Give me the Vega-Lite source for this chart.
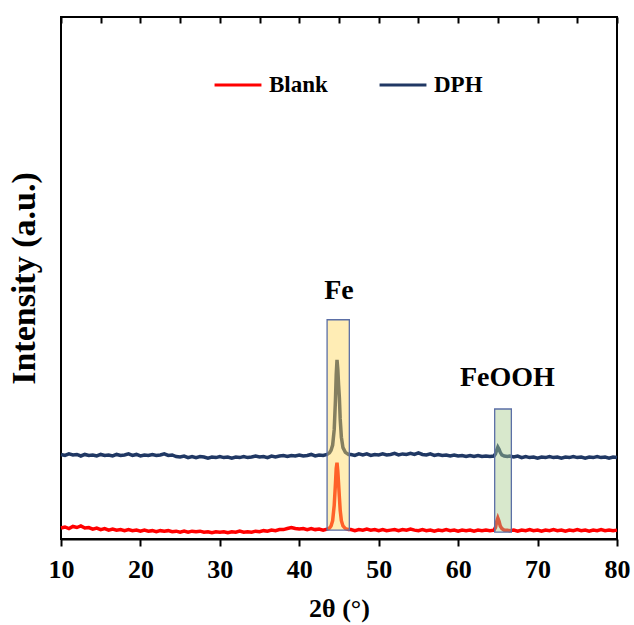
{
  "$schema": "https://vega.github.io/schema/vega-lite/v6.json",
  "width": 556,
  "height": 522,
  "autosize": "none",
  "padding": {"left": 61, "top": 17, "right": 17, "bottom": 86},
  "background": "white",
  "config": {
    "view": {"stroke": "black", "strokeWidth": 2},
    "font": "Liberation Serif",
    "axis": {"grid": false, "labelFont": "Liberation Serif", "titleFont": "Liberation Serif", "labelFlush": false}
  },
  "datasets": {
    "xrd": [
      {"x":10,"Blank":2.1,"DPH":16.2},{"x":10.5,"Blank":2.3,"DPH":16.0},{"x":11,"Blank":2.0,"DPH":16.3},{"x":11.5,"Blank":2.4,"DPH":16.1},
      {"x":12,"Blank":2.2,"DPH":16.2},{"x":12.5,"Blank":2.5,"DPH":15.9},{"x":13,"Blank":2.1,"DPH":16.2},{"x":13.5,"Blank":2.2,"DPH":16.0},
      {"x":14,"Blank":1.9,"DPH":16.1},{"x":14.5,"Blank":2.1,"DPH":15.9},{"x":15,"Blank":1.8,"DPH":16.2},{"x":15.5,"Blank":2.0,"DPH":16.0},
      {"x":16,"Blank":1.7,"DPH":16.1},{"x":16.5,"Blank":1.9,"DPH":15.9},{"x":17,"Blank":1.7,"DPH":16.2},{"x":17.5,"Blank":1.8,"DPH":16.0},
      {"x":18,"Blank":1.6,"DPH":16.1},{"x":18.5,"Blank":1.8,"DPH":16.3},{"x":19,"Blank":1.6,"DPH":16.0},{"x":19.5,"Blank":1.7,"DPH":16.2},
      {"x":20,"Blank":1.5,"DPH":15.9},{"x":20.5,"Blank":1.7,"DPH":16.1},{"x":21,"Blank":1.5,"DPH":16.0},{"x":21.5,"Blank":1.6,"DPH":16.2},
      {"x":22,"Blank":1.4,"DPH":16.0},{"x":22.5,"Blank":1.6,"DPH":16.1},{"x":23,"Blank":1.5,"DPH":16.3},{"x":23.5,"Blank":1.6,"DPH":16.0},
      {"x":24,"Blank":1.4,"DPH":16.1},{"x":24.5,"Blank":1.5,"DPH":15.8},{"x":25,"Blank":1.3,"DPH":15.7},{"x":25.5,"Blank":1.5,"DPH":15.9},
      {"x":26,"Blank":1.3,"DPH":15.6},{"x":26.5,"Blank":1.5,"DPH":15.8},{"x":27,"Blank":1.4,"DPH":15.6},{"x":27.5,"Blank":1.5,"DPH":15.8},
      {"x":28,"Blank":1.3,"DPH":15.7},{"x":28.5,"Blank":1.4,"DPH":15.5},{"x":29,"Blank":1.2,"DPH":15.7},{"x":29.5,"Blank":1.4,"DPH":15.6},
      {"x":30,"Blank":1.3,"DPH":15.8},{"x":30.5,"Blank":1.4,"DPH":15.6},{"x":31,"Blank":1.2,"DPH":15.7},{"x":31.5,"Blank":1.4,"DPH":15.5},
      {"x":32,"Blank":1.3,"DPH":15.7},{"x":32.5,"Blank":1.5,"DPH":15.6},{"x":33,"Blank":1.3,"DPH":15.8},{"x":33.5,"Blank":1.4,"DPH":15.6},
      {"x":34,"Blank":1.3,"DPH":15.7},{"x":34.5,"Blank":1.5,"DPH":15.9},{"x":35,"Blank":1.4,"DPH":15.7},{"x":35.5,"Blank":1.6,"DPH":15.8},
      {"x":36,"Blank":1.5,"DPH":15.6},{"x":36.5,"Blank":1.7,"DPH":15.9},{"x":37,"Blank":1.6,"DPH":15.7},{"x":37.5,"Blank":1.8,"DPH":15.9},
      {"x":38,"Blank":1.8,"DPH":16.0},{"x":38.5,"Blank":2.0,"DPH":15.8},{"x":39,"Blank":2.2,"DPH":16.0},{"x":39.5,"Blank":2.0,"DPH":15.9},
      {"x":40,"Blank":1.9,"DPH":16.1},{"x":40.5,"Blank":2.0,"DPH":15.9},{"x":41,"Blank":1.8,"DPH":16.0},{"x":41.5,"Blank":2.0,"DPH":16.2},
      {"x":42,"Blank":1.8,"DPH":15.9},{"x":42.5,"Blank":1.9,"DPH":16.1},{"x":43,"Blank":1.7,"DPH":16.0},
      {"x":43.5,"Blank":1.9,"DPH":16.2},{"x":43.8,"Blank":2.1,"DPH":16.5},{"x":44.0,"Blank":2.5,"DPH":17.0},{"x":44.2,"Blank":3.5,"DPH":18.0},
      {"x":44.4,"Blank":6.5,"DPH":21.0},{"x":44.55,"Blank":10.5,"DPH":26.5},{"x":44.65,"Blank":13.5,"DPH":31.5},{"x":44.75,"Blank":14.6,"DPH":34.3},
      {"x":44.85,"Blank":13.0,"DPH":32.5},{"x":44.95,"Blank":10.5,"DPH":29.5},{"x":45.05,"Blank":8.0,"DPH":27.0},{"x":45.15,"Blank":5.5,"DPH":23.0},
      {"x":45.3,"Blank":3.5,"DPH":19.5},{"x":45.5,"Blank":2.5,"DPH":17.5},{"x":45.8,"Blank":2.0,"DPH":16.6},{"x":46.2,"Blank":1.8,"DPH":16.2},
      {"x":46.5,"Blank":1.8,"DPH":16.2},{"x":47,"Blank":1.6,"DPH":16.0},{"x":47.5,"Blank":1.8,"DPH":16.3},{"x":48,"Blank":1.7,"DPH":16.1},
      {"x":48.5,"Blank":1.9,"DPH":16.3},{"x":49,"Blank":1.7,"DPH":16.0},{"x":49.5,"Blank":1.8,"DPH":16.2},{"x":50,"Blank":1.6,"DPH":16.1},
      {"x":50.5,"Blank":1.8,"DPH":16.3},{"x":51,"Blank":1.6,"DPH":16.1},{"x":51.5,"Blank":1.7,"DPH":16.2},{"x":52,"Blank":1.8,"DPH":16.4},
      {"x":52.5,"Blank":1.6,"DPH":16.1},{"x":53,"Blank":1.8,"DPH":16.3},{"x":53.5,"Blank":1.7,"DPH":16.2},{"x":54,"Blank":1.9,"DPH":16.4},
      {"x":54.5,"Blank":1.7,"DPH":16.2},{"x":55,"Blank":1.6,"DPH":16.5},{"x":55.5,"Blank":1.8,"DPH":16.2},{"x":56,"Blank":1.6,"DPH":16.1},
      {"x":56.5,"Blank":1.7,"DPH":16.3},{"x":57,"Blank":1.5,"DPH":16.0},{"x":57.5,"Blank":1.7,"DPH":16.2},{"x":58,"Blank":1.6,"DPH":16.0},
      {"x":58.5,"Blank":1.8,"DPH":16.1},{"x":59,"Blank":1.6,"DPH":15.9},{"x":59.5,"Blank":1.7,"DPH":16.1},{"x":60,"Blank":1.5,"DPH":15.9},
      {"x":60.5,"Blank":1.7,"DPH":16.0},{"x":61,"Blank":1.6,"DPH":15.8},{"x":61.5,"Blank":1.7,"DPH":16.0},{"x":62,"Blank":1.5,"DPH":15.8},
      {"x":62.5,"Blank":1.7,"DPH":16.0},{"x":63,"Blank":1.6,"DPH":15.8},{"x":63.5,"Blank":1.7,"DPH":15.9},{"x":64,"Blank":1.6,"DPH":15.8},
      {"x":64.5,"Blank":1.7,"DPH":15.9},{"x":64.7,"Blank":2.2,"DPH":16.3},{"x":64.85,"Blank":3.3,"DPH":17.0},{"x":65.0,"Blank":4.0,"DPH":17.6},
      {"x":65.15,"Blank":3.4,"DPH":17.2},{"x":65.3,"Blank":2.5,"DPH":16.6},{"x":65.5,"Blank":2.0,"DPH":16.1},{"x":65.8,"Blank":1.7,"DPH":15.9},
      {"x":66.2,"Blank":1.7,"DPH":15.8},{"x":66.5,"Blank":1.6,"DPH":15.9},{"x":67,"Blank":1.7,"DPH":15.7},{"x":67.5,"Blank":1.5,"DPH":15.9},
      {"x":68,"Blank":1.7,"DPH":15.6},{"x":68.5,"Blank":1.6,"DPH":15.8},{"x":69,"Blank":1.8,"DPH":15.6},{"x":69.5,"Blank":1.6,"DPH":15.7},
      {"x":70,"Blank":1.7,"DPH":15.5},{"x":70.5,"Blank":1.5,"DPH":15.7},{"x":71,"Blank":1.7,"DPH":15.6},{"x":71.5,"Blank":1.6,"DPH":15.8},
      {"x":72,"Blank":1.8,"DPH":15.6},{"x":72.5,"Blank":1.6,"DPH":15.7},{"x":73,"Blank":1.7,"DPH":15.5},{"x":73.5,"Blank":1.5,"DPH":15.7},
      {"x":74,"Blank":1.7,"DPH":15.6},{"x":74.5,"Blank":1.6,"DPH":15.8},{"x":75,"Blank":1.8,"DPH":15.6},{"x":75.5,"Blank":1.6,"DPH":15.7},
      {"x":76,"Blank":1.7,"DPH":15.5},{"x":76.5,"Blank":1.5,"DPH":15.7},{"x":77,"Blank":1.7,"DPH":15.6},{"x":77.5,"Blank":1.6,"DPH":15.8},
      {"x":78,"Blank":1.8,"DPH":15.6},{"x":78.5,"Blank":1.6,"DPH":15.7},{"x":79,"Blank":1.7,"DPH":15.5},{"x":79.5,"Blank":1.6,"DPH":15.7},
      {"x":80,"Blank":1.7,"DPH":15.6}
    ],
    "boxes": [
      {"phase":"Fe","x1":43.5,"x2":46.3,"y1":1.7,"y2":42.0},
      {"phase":"FeOOH","x1":64.6,"x2":66.7,"y1":1.3,"y2":24.9}
    ],
    "labels": [
      {"label":"Fe","x":45.0,"y":47.5},
      {"label":"FeOOH","x":66.2,"y":30.8}
    ]
  },
  "layer": [
    {
      "data": {"name": "xrd"},
      "transform": [{"fold": ["Blank", "DPH"], "as": ["series", "intensity"]}],
      "mark": {"type": "line", "strokeWidth": 3.5},
      "encoding": {
        "x": {"field": "x", "type": "quantitative",
          "scale": {"domain": [10, 80], "nice": false},
          "axis": {"values": [10,20,30,40,50,60,70,80], "tickSize": 7, "tickWidth": 2, "tickColor": "black", "labelFlush": false,
            "domainColor": "black", "domainWidth": 2, "labelFontSize": 26, "labelFontWeight": "bold", "labelColor": "black",
            "labelPadding": 10, "labelFont": "Liberation Serif",
            "title": "2θ (°)", "titleFontSize": 26, "titleFontWeight": "bold", "titleColor": "black", "titleFont": "Liberation Serif", "titlePadding": 13}},
        "y": {"field": "intensity", "type": "quantitative",
          "scale": {"domain": [0, 100], "nice": false},
          "axis": {"labels": false, "ticks": false, "domain": false, "title": "Intensity (a.u.)",
            "titleFontSize": 34, "titleFontWeight": "bold", "titleColor": "black", "titleFont": "Liberation Serif", "titlePadding": 20}},
        "color": {"field": "series", "type": "nominal",
          "scale": {"domain": ["Blank", "DPH"], "range": ["#FF0000", "#203864"]},
          "legend": {"title": null, "orient": "none", "direction": "horizontal", "legendX": 152, "legendY": 43,
            "symbolType": "stroke", "symbolSize": 2200, "symbolStrokeWidth": 3, "labelFontSize": 23, "labelFontWeight": "bold",
            "labelColor": "black", "labelFont": "Liberation Serif", "labelOffset": 6, "columnPadding": 45, "padding": 0}}
      }
    },
    {
      "data": {"name": "boxes"},
      "mark": {"type": "rect", "fillOpacity": 0.45, "stroke": "#5B6FA6", "strokeWidth": 1.3},
      "encoding": {
        "x": {"field": "x1", "type": "quantitative",
          "axis": {"values": [10,15,20,25,30,35,40,45,50,55,60,65,70,75,80], "tickSize": -6, "tickWidth": 2, "tickColor": "black",
            "labels": false, "domain": false, "title": null}},
        "x2": {"field": "x2"},
        "y": {"field": "y1", "type": "quantitative", "axis": null},
        "y2": {"field": "y2"},
        "fill": {"field": "phase", "type": "nominal",
          "scale": {"domain": ["Fe", "FeOOH"], "range": ["#FFD75C", "#A8CD8E"]}, "legend": null}
      }
    },
    {
      "data": {"name": "labels"},
      "mark": {"type": "text", "font": "Liberation Serif", "fontWeight": "bold", "fontSize": 28, "color": "black"},
      "encoding": {
        "x": {"field": "x", "type": "quantitative", "axis": null},
        "y": {"field": "y", "type": "quantitative", "axis": null},
        "text": {"field": "label"}
      }
    }
  ],
  "resolve": {"axis": {"x": "independent", "y": "independent"}}
}
